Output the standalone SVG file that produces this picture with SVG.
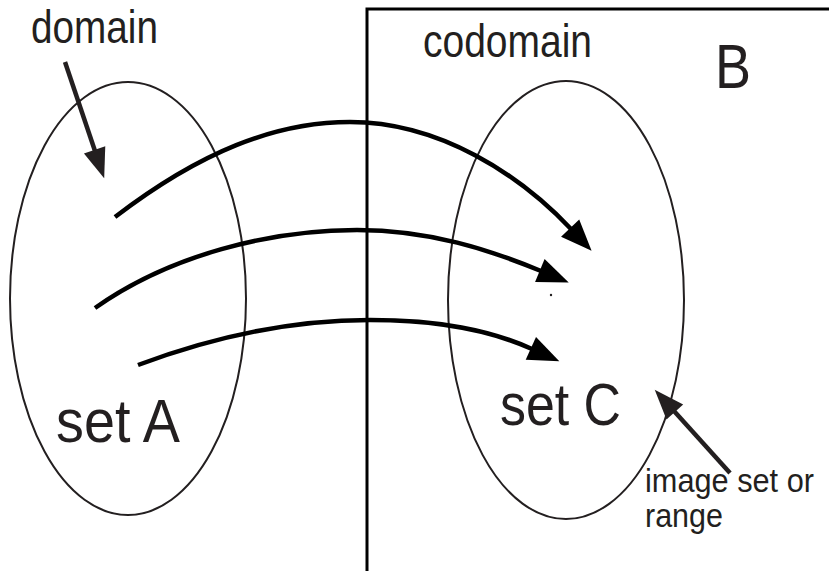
<svg xmlns="http://www.w3.org/2000/svg" width="829" height="571" viewBox="0 0 829 571">
<style>
.lbl{font-family:"Liberation Sans",Arial,sans-serif;fill:#231f20}
.set{fill:none;stroke:#231f20;stroke-width:2}
.conn{fill:none;stroke:#000;stroke-width:4.5;stroke-linecap:butt}
.ptr{fill:none;stroke:#231f20;stroke-width:4.5}
</style>
<defs>
<marker id="ah" markerUnits="userSpaceOnUse" markerWidth="40" markerHeight="40" viewBox="-2 -12 32 24" refX="1" refY="0" orient="auto">
<path d="M0,-10 L25,0 L0,10 z" fill="#000"/>
</marker>
<marker id="ah2" markerUnits="userSpaceOnUse" markerWidth="40" markerHeight="40" viewBox="-2 -12 32 24" refX="1" refY="0" orient="auto">
<path d="M0,-9 L24,0 L0,9 z" fill="#231f20"/>
</marker>
</defs>
<rect width="829" height="571" fill="#fff"/>
<g id="setB">
<path d="M367,575 L367,9 L835,9" fill="none" stroke="#000" stroke-width="3"/>
<text class="lbl" x="423" y="57" font-size="46" textLength="169" lengthAdjust="spacingAndGlyphs">codomain</text>
<text class="lbl" x="715" y="88" font-size="63" textLength="36" lengthAdjust="spacingAndGlyphs">B</text>
</g>
<g id="setA">
<ellipse class="set" cx="128" cy="298.5" rx="118" ry="216.5"/>
<text class="lbl" x="56" y="442" font-size="61" textLength="124" lengthAdjust="spacingAndGlyphs">set A</text>
</g>
<g id="setC">
<ellipse class="set" cx="566" cy="300" rx="118" ry="219"/>
<text class="lbl" x="500" y="425" font-size="59" textLength="121" lengthAdjust="spacingAndGlyphs">set C</text>
<circle cx="551" cy="295" r="1.2" fill="#231f20"/>
</g>
<g id="domain">
<text class="lbl" x="31" y="43" font-size="46" textLength="127" lengthAdjust="spacingAndGlyphs">domain</text>
</g>
<g id="range">
<text class="lbl" x="645" y="492" font-size="33" textLength="169" lengthAdjust="spacingAndGlyphs">image set or</text>
<text class="lbl" x="645" y="527" font-size="33" textLength="78" lengthAdjust="spacingAndGlyphs">range</text>
</g>
<g id="connectors">
<path class="conn" d="M115,217 C200,152 275,122 350,122 C440,122 520,175 571,229" marker-end="url(#ah)"/>
<path class="conn" d="M95,308 C170,255 270,230 357,230 C430,230 490,250 541,271" marker-end="url(#ah)"/>
<path class="conn" d="M138,365 C210,338 290,320 370,320 C440,320 490,330 532,349" marker-end="url(#ah)"/>
<path class="ptr" d="M65,62 L95,151" marker-end="url(#ah2)"/>
<path class="ptr" d="M730,473 L674,411" marker-end="url(#ah2)"/>
</g>
</svg>
